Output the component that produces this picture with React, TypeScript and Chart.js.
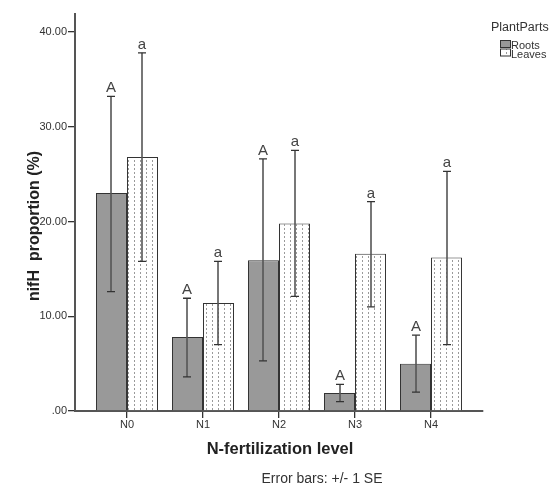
import React, { useEffect, useRef } from 'react';
import { Chart, registerables } from 'chart.js';
Chart.register(...registerables);

const categories = ['N0', 'N1', 'N2', 'N3', 'N4'];
const rootsMean = [23.0, 7.8, 15.9, 1.9, 5.0];
const rootsLow = [12.6, 3.6, 5.3, 1.0, 2.0];
const rootsHigh = [33.2, 11.9, 26.6, 2.8, 8.0];
const leavesMean = [26.8, 11.4, 19.8, 16.6, 16.2];
const leavesLow = [15.8, 7.0, 12.1, 11.0, 7.0];
const leavesHigh = [37.8, 15.8, 27.5, 22.1, 25.3];
const rootsLetters = ['A', 'A', 'A', 'A', 'A'];
const leavesLetters = ['a', 'a', 'a', 'a', 'a'];
const yTicks = [0, 10, 20, 30, 40];
const seriesNames = ['Roots', 'Leaves'];

const FONT = '"Liberation Sans", Arial, sans-serif';

function makePattern(): CanvasPattern | string {
  const c = document.createElement('canvas');
  c.width = 6;
  c.height = 4;
  const g = c.getContext('2d');
  if (!g) return '#fff';
  g.fillStyle = '#ffffff';
  g.fillRect(0, 0, 6, 4);
  g.fillStyle = '#9a9a9a';
  g.fillRect(2, 0, 1, 2);
  return g.createPattern(c, 'repeat') || '#fff';
}

export default function App() {
  const ref = useRef<HTMLCanvasElement>(null);
  useEffect(() => {
    if (!ref.current) return;
    const pattern = makePattern();
    const overlay = {
      id: 'overlay',
      afterDatasetsDraw(chart: any) {
        const ctx = chart.ctx;
        const ys = chart.scales.y;
        const sets: [number[], number[], string[]][] = [
          [rootsLow, rootsHigh, rootsLetters],
          [leavesLow, leavesHigh, leavesLetters],
        ];
        ctx.save();
        sets.forEach(([lo, hi, lets], di) => {
          const meta = chart.getDatasetMeta(di);
          meta.data.forEach((el: any, i: number) => {
            const x = Math.round(el.x);
            const yl = ys.getPixelForValue(lo[i]);
            const yh = ys.getPixelForValue(hi[i]);
            ctx.strokeStyle = '#555';
            ctx.lineWidth = 1.6;
            ctx.beginPath();
            ctx.moveTo(x, yl);
            ctx.lineTo(x, yh);
            ctx.stroke();
            ctx.strokeStyle = '#333';
            ctx.lineWidth = 1.3;
            ctx.beginPath();
            ctx.moveTo(x - 4, yl);
            ctx.lineTo(x + 4, yl);
            ctx.moveTo(x - 4, yh);
            ctx.lineTo(x + 4, yh);
            ctx.stroke();
            ctx.fillStyle = '#444';
            ctx.font = '15px ' + FONT;
            ctx.textAlign = 'center';
            ctx.textBaseline = 'alphabetic';
            ctx.fillText(lets[i], x, yh - 4);
          });
        });
        ctx.restore();
      },
      afterDraw(chart: any) {
        const ctx = chart.ctx;
        ctx.save();
        ctx.fillStyle = '#222';
        // y title
        ctx.font = 'bold 16px ' + FONT;
        ctx.textAlign = 'center';
        ctx.textBaseline = 'middle';
        ctx.translate(35, 226);
        ctx.rotate(-Math.PI / 2);
        ctx.fillText('nifH  proportion (%)', 0, 0);
        ctx.restore();
        ctx.save();
        ctx.fillStyle = '#222';
        ctx.font = 'bold 16.5px ' + FONT;
        ctx.textAlign = 'center';
        ctx.textBaseline = 'alphabetic';
        ctx.fillText('N-fertilization level', 280, 454);
        ctx.font = '14px ' + FONT;
        ctx.fillStyle = '#333';
        ctx.fillText('Error bars: +/- 1 SE', 322, 483);
        // legend
        ctx.textAlign = 'left';
        ctx.font = '12.5px ' + FONT;
        ctx.fillStyle = '#333';
        ctx.fillText('PlantParts', 491, 31);
        ctx.font = '11px ' + FONT;
        const fills: any[] = ['#999999', pattern];
        seriesNames.forEach((n, k) => {
          const top = 40.5 + k * 8.5;
          ctx.fillStyle = fills[k];
          ctx.fillRect(500.5, top, 10, 7);
          ctx.strokeStyle = '#333';
          ctx.lineWidth = 1;
          ctx.strokeRect(500.5, top, 10, 7);
          ctx.fillStyle = '#333';
          ctx.fillText(n, 511, top + 8.5);
        });
        ctx.restore();
      },
    };
    const chart = new Chart(ref.current, {
      type: 'bar',
      data: {
        datasets: [
          {
            label: seriesNames[0],
            data: rootsMean.map((v, i) => ({ x: i, y: v })),
            backgroundColor: '#999999',
            borderColor: '#333',
            borderWidth: 1,
          },
          {
            label: seriesNames[1],
            data: leavesMean.map((v, i) => ({ x: i, y: v })),
            backgroundColor: pattern as any,
            borderColor: '#333',
            borderWidth: 1,
          },
        ],
      },
      options: {
        animation: false,
        responsive: false,
        maintainAspectRatio: false,
        layout: { padding: { top: 14, right: 73, left: 0, bottom: 0 } },
        datasets: { bar: { categoryPercentage: 0.816, barPercentage: 1 } },
        plugins: { legend: { display: false }, tooltip: { enabled: false } },
        scales: {
          x: {
            type: 'linear',
            offset: false,
            min: -0.684,
            max: 4.684,
            afterFit: (s: any) => { s.height = 75; },
            afterBuildTicks: (s: any) => { s.ticks = categories.map((_, i) => ({ value: i })); },
            grid: { offset: false, drawOnChartArea: false, drawTicks: true, tickLength: 7, color: '#333', lineWidth: 1.3 },
            border: { display: true, color: '#555', width: 2 },
            ticks: {
              padding: 0,
              color: '#333',
              font: { family: FONT, size: 11 },
              maxRotation: 0,
              autoSkip: false,
              callback: (v: any) => categories[Math.round(Number(v))] ?? '',
            },
          },
          y: {
            type: 'linear',
            min: 0,
            max: 40 + 18 / 9.475,
            afterFit: (s: any) => { s.width = 75; },
            afterBuildTicks: (s: any) => { s.ticks = yTicks.map((v) => ({ value: v })); },
            grid: { drawOnChartArea: false, drawTicks: true, tickLength: 7, color: '#333', lineWidth: 1.3 },
            border: { display: true, color: '#555', width: 2 },
            ticks: {
              padding: 1,
              color: '#333',
              font: { family: FONT, size: 11 },
              callback: (v: any) => (Number(v) === 0 ? '.00' : Number(v).toFixed(2)),
            },
          },
        },
      } as any,
      plugins: [overlay],
    });
    return () => chart.destroy();
  }, []);
  return (
    <div style={{ position: 'fixed', left: 0, top: 0, width: 556, height: 486, background: '#fff' }}>
      <canvas ref={ref} width={556} height={486} style={{ width: 556, height: 486, display: 'block' }} />
    </div>
  );
}
